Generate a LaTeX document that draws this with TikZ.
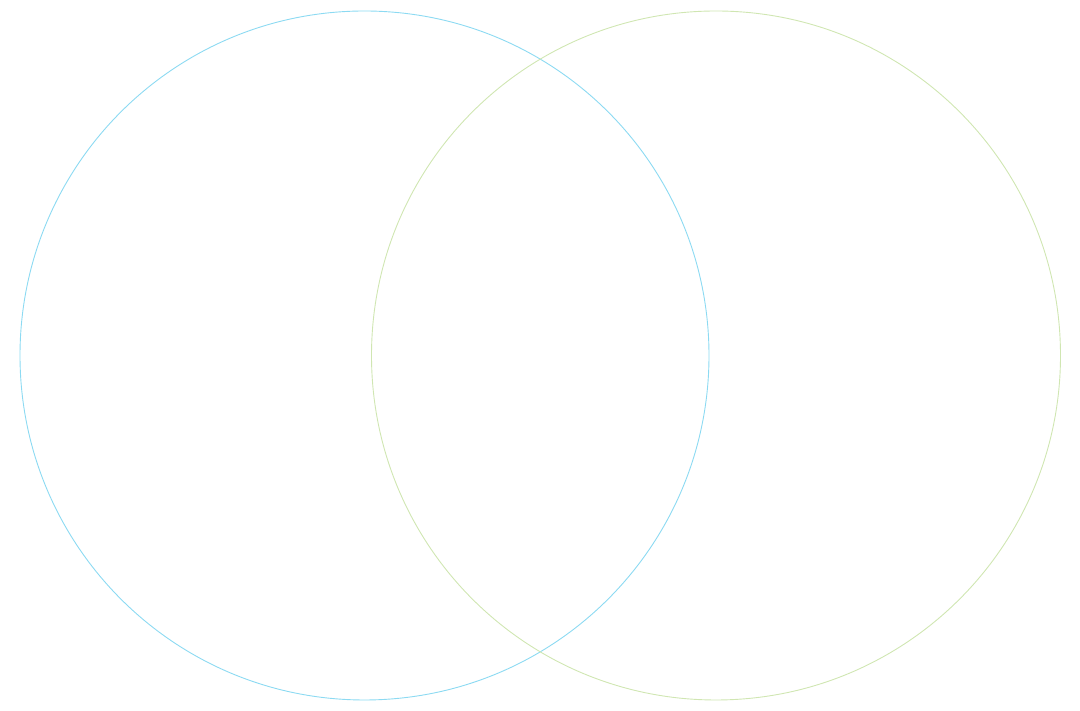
\documentclass[tikz,border=0pt]{standalone}
\usetikzlibrary{positioning}
\definecolor{leftblue}{RGB}{140,218,242}
\definecolor{rightgreen}{RGB}{208,230,178}
\tikzset{
  ring/.style={line width=0.9pt}
}
\begin{document}
\begin{tikzpicture}[x=1pt,y=1pt]

% canvas
\useasboundingbox (0,0) rectangle (1080,711);

% two overlapping circles
\coordinate (leftc)  at (364.5,355.5);
\coordinate (rightc) at (716,355.5);

\draw[ring, leftblue]   (leftc)  circle (344.5);
\draw[ring, rightgreen] (rightc) circle (344.5);

\end{tikzpicture}
\end{document}
